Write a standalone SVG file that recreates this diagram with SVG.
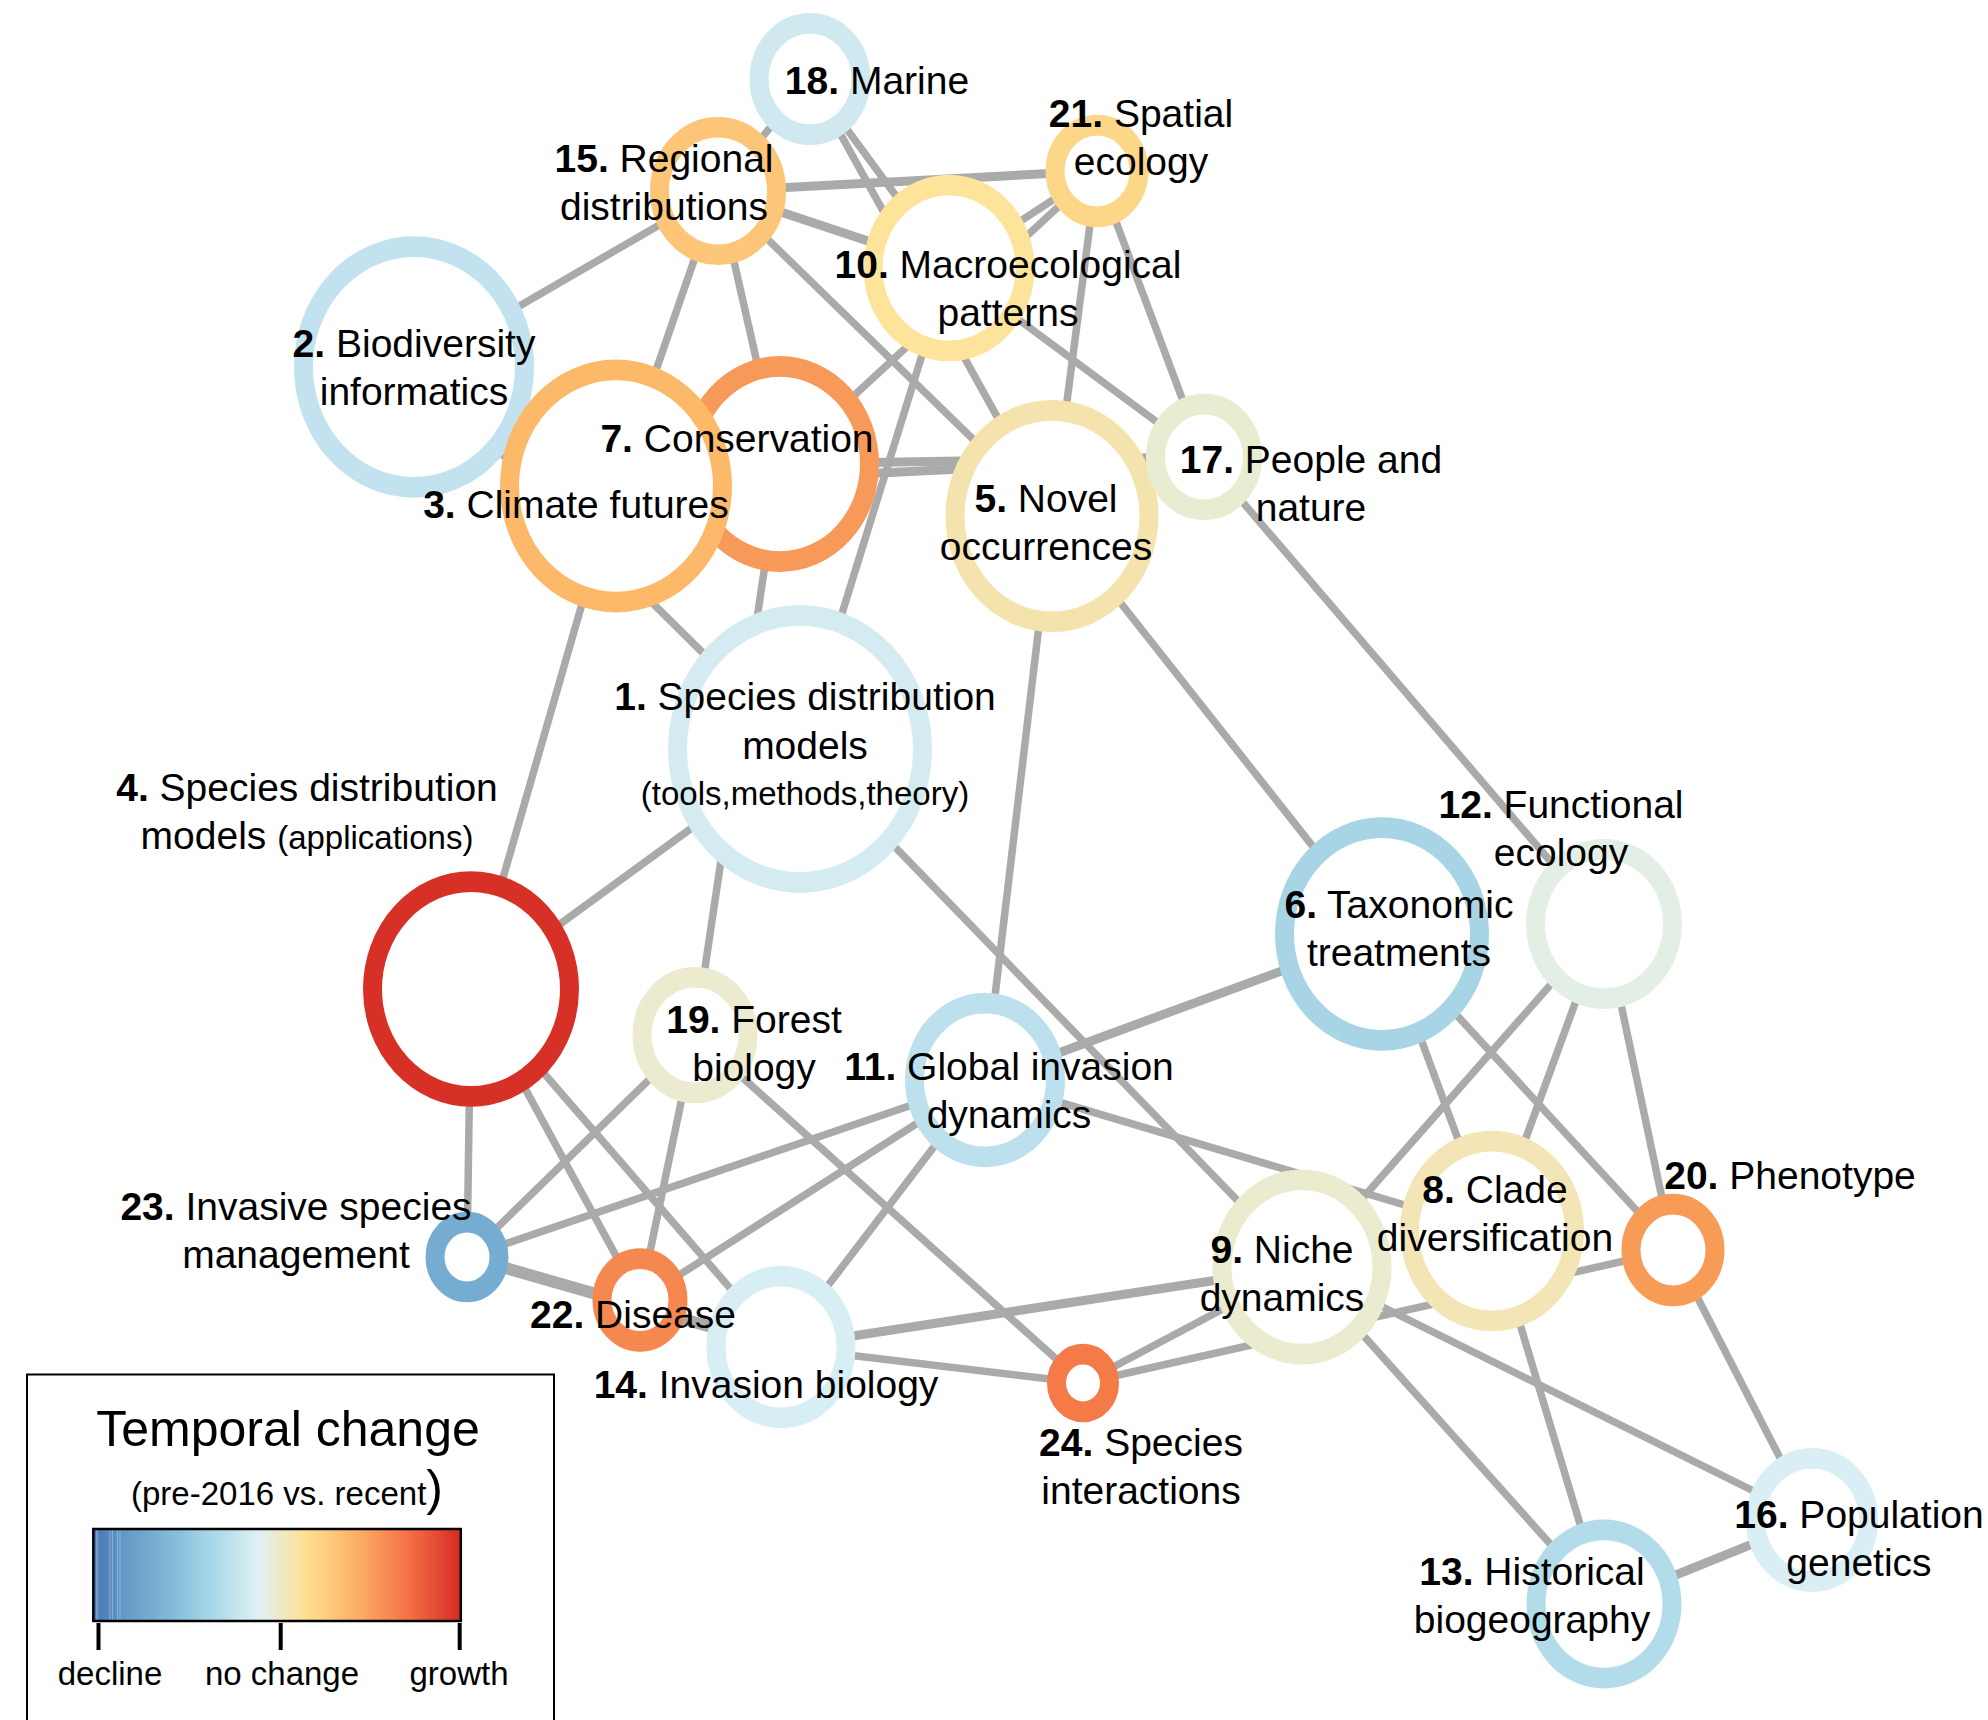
<svg xmlns="http://www.w3.org/2000/svg" width="1988" height="1720" viewBox="0 0 1988 1720">
<style>
.e{stroke:#aaaaaa;stroke-width:7.5;stroke-linecap:butt}
.t{stroke-width:9}
.tt{stroke-width:12}
.ring{fill:#ffffff;stroke-width:19}
text{font-family:"Liberation Sans",Arial,sans-serif;font-size:39px;fill:#000000}
.b{font-weight:bold}
.s{font-size:33px}
</style>
<defs>
<linearGradient id="grad" x1="0" y1="0" x2="1" y2="0">
<stop offset="0" stop-color="#4575b4"/>
<stop offset="0.08" stop-color="#6398c6"/>
<stop offset="0.22" stop-color="#86bcd9"/>
<stop offset="0.33" stop-color="#abd9e9"/>
<stop offset="0.45" stop-color="#e0f1f5"/>
<stop offset="0.58" stop-color="#fee090"/>
<stop offset="0.73" stop-color="#fcab62"/>
<stop offset="0.86" stop-color="#f46f46"/>
<stop offset="1" stop-color="#d52b25"/>
</linearGradient>
</defs>
<rect width="1988" height="1720" fill="#ffffff"/>
<g id="edges">
<line class="e" x1="810" y1="79" x2="718" y2="191"/>
<line class="e" x1="810" y1="79" x2="949" y2="268"/>
<line class="e" x1="810" y1="79" x2="1052" y2="516"/>
<line class="e t" x1="718" y1="191" x2="1097" y2="171"/>
<line class="e t" x1="718" y1="191" x2="949" y2="268"/>
<line class="e" x1="718" y1="191" x2="414" y2="367"/>
<line class="e" x1="718" y1="191" x2="616" y2="486"/>
<line class="e" x1="718" y1="191" x2="780" y2="464"/>
<line class="e" x1="718" y1="191" x2="1052" y2="516"/>
<line class="e" x1="1097" y1="171" x2="949" y2="268"/>
<line class="e" x1="1097" y1="171" x2="780" y2="464"/>
<line class="e" x1="1097" y1="171" x2="1052" y2="516"/>
<line class="e" x1="1097" y1="171" x2="1204" y2="457"/>
<line class="e" x1="949" y1="268" x2="1204" y2="457"/>
<line class="e" x1="949" y1="268" x2="800" y2="749"/>
<line class="e t" x1="780" y1="464" x2="1204" y2="457"/>
<line class="e t" x1="616" y1="486" x2="1204" y2="457"/>
<line class="e" x1="414" y1="367" x2="800" y2="749"/>
<line class="e" x1="780" y1="464" x2="695" y2="1035"/>
<line class="e" x1="616" y1="486" x2="471" y2="989"/>
<line class="e" x1="471" y1="989" x2="800" y2="749"/>
<line class="e" x1="1052" y1="516" x2="985" y2="1080"/>
<line class="e" x1="1052" y1="516" x2="1382" y2="934"/>
<line class="e" x1="1204" y1="457" x2="1604" y2="924"/>
<line class="e" x1="800" y1="749" x2="1302" y2="1267"/>
<line class="e" x1="471" y1="989" x2="467" y2="1257"/>
<line class="e" x1="471" y1="989" x2="640" y2="1300"/>
<line class="e" x1="471" y1="989" x2="781" y2="1347"/>
<line class="e" x1="695" y1="1035" x2="467" y2="1257"/>
<line class="e" x1="695" y1="1035" x2="640" y2="1300"/>
<line class="e" x1="695" y1="1035" x2="1083" y2="1383"/>
<line class="e" x1="985" y1="1080" x2="467" y2="1257"/>
<line class="e" x1="985" y1="1080" x2="640" y2="1300"/>
<line class="e" x1="985" y1="1080" x2="781" y2="1347"/>
<line class="e" x1="985" y1="1080" x2="1492" y2="1231"/>
<line class="e t" x1="1382" y1="934" x2="985" y2="1080"/>
<line class="e" x1="1382" y1="934" x2="1492" y2="1231"/>
<line class="e" x1="1382" y1="934" x2="1673" y2="1250"/>
<line class="e" x1="1604" y1="924" x2="1302" y2="1267"/>
<line class="e" x1="1604" y1="924" x2="1492" y2="1231"/>
<line class="e" x1="1604" y1="924" x2="1673" y2="1250"/>
<line class="e" x1="1083" y1="1383" x2="1673" y2="1250"/>
<line class="e" x1="1083" y1="1383" x2="1302" y2="1267"/>
<line class="e t" x1="781" y1="1347" x2="1302" y2="1267"/>
<line class="e" x1="781" y1="1347" x2="1083" y2="1383"/>
<line class="e" x1="1302" y1="1267" x2="1604" y2="1604"/>
<line class="e" x1="1302" y1="1267" x2="1812" y2="1520"/>
<line class="e" x1="1492" y1="1231" x2="1604" y2="1604"/>
<line class="e" x1="1673" y1="1250" x2="1812" y2="1520"/>
<line class="e t" x1="1604" y1="1604" x2="1812" y2="1520"/>
<line class="e tt" x1="467" y1="1257" x2="781" y2="1347"/>
</g>
<g id="nodes">
<g id="node-1"><circle class="ring" r="122.5" stroke="#d4ebf2" transform="translate(800,749) scale(1,1.09)"/></g>
<g id="node-2"><circle class="ring" r="110.5" stroke="#c1e2ee" transform="translate(414,367) scale(1,1.09)"/></g>
<g id="node-7"><circle class="ring" r="89.5" stroke="#f79a59" transform="translate(780,464) scale(1,1.09)"/></g>
<g id="node-3"><circle class="ring" r="106.5" stroke="#fdb96a" transform="translate(616,486) scale(1,1.09)"/></g>
<g id="node-4"><circle class="ring" r="98.5" stroke="#d73027" transform="translate(471,989) scale(1,1.09)"/></g>
<g id="node-5"><circle class="ring" r="97" stroke="#f5e3ad" transform="translate(1052,516) scale(1,1.09)"/></g>
<g id="node-6"><circle class="ring" r="97.5" stroke="#a8d5e6" transform="translate(1382,934) scale(1,1.09)"/></g>
<g id="node-8"><circle class="ring" r="82.5" stroke="#f3e5b5" transform="translate(1492,1231) scale(1,1.09)"/></g>
<g id="node-9"><circle class="ring" r="80" stroke="#ebebcf" transform="translate(1302,1267) scale(1,1.09)"/></g>
<g id="node-10"><circle class="ring" r="76" stroke="#fee39a" transform="translate(949,268) scale(1,1.09)"/></g>
<g id="node-11"><circle class="ring" r="70.5" stroke="#bce0ee" transform="translate(985,1080) scale(1,1.09)"/></g>
<g id="node-12"><circle class="ring" r="68.5" stroke="#e3efe5" transform="translate(1604,924) scale(1,1.09)"/></g>
<g id="node-13"><circle class="ring" r="68" stroke="#b3dcea" transform="translate(1604,1604) scale(1,1.09)"/></g>
<g id="node-14"><circle class="ring" r="65" stroke="#d8eef5" transform="translate(781,1347) scale(1,1.09)"/></g>
<g id="node-15"><circle class="ring" r="58.5" stroke="#fdc578" transform="translate(718,191) scale(1,1.09)"/></g>
<g id="node-16"><circle class="ring" r="56.5" stroke="#d9eef5" transform="translate(1812,1520) scale(1,1.09)"/></g>
<g id="node-17"><circle class="ring" r="48.5" stroke="#e8ecd1" transform="translate(1204,457) scale(1,1.09)"/></g>
<g id="node-18"><circle class="ring" r="51" stroke="#d0e9f1" transform="translate(810,79) scale(1,1.09)"/></g>
<g id="node-19"><circle class="ring" r="53" stroke="#ecebcf" transform="translate(695,1035) scale(1,1.09)"/></g>
<g id="node-20"><circle class="ring" r="42" stroke="#f89b57" transform="translate(1673,1250) scale(1,1.09)"/></g>
<g id="node-21"><circle class="ring" r="42" stroke="#fdd788" transform="translate(1097,171) scale(1,1.09)"/></g>
<g id="node-22"><circle class="ring" r="38" stroke="#f5884f" transform="translate(640,1300) scale(1,1.09)"/></g>
<g id="node-23"><circle class="ring" r="32" stroke="#74add1" transform="translate(467,1257) scale(1,1.09)"/></g>
<g id="node-24"><circle class="ring" r="26.5" stroke="#f47b48" transform="translate(1083,1383) scale(1,1.09)"/></g>
</g>
<g id="labels" text-anchor="middle">
<g id="label-1"><text x="805" y="710"><tspan class="b">1.</tspan> Species distribution</text><text x="805" y="759">models</text><text class="s" x="805" y="805">(tools,methods,theory)</text></g>
<g id="label-2"><text x="414" y="357"><tspan class="b">2.</tspan> Biodiversity</text><text x="414" y="405">informatics</text></g>
<g id="label-3"><text x="576" y="518"><tspan class="b">3.</tspan> Climate futures</text></g>
<g id="label-4"><text x="307" y="801"><tspan class="b">4.</tspan> Species distribution</text><text x="307" y="849">models <tspan class="s">(applications)</tspan></text></g>
<g id="label-5"><text x="1046" y="512"><tspan class="b">5.</tspan> Novel</text><text x="1046" y="560">occurrences</text></g>
<g id="label-6"><text x="1399" y="918"><tspan class="b">6.</tspan> Taxonomic</text><text x="1399" y="966">treatments</text></g>
<g id="label-7"><text x="737" y="452"><tspan class="b">7.</tspan> Conservation</text></g>
<g id="label-8"><text x="1495" y="1203"><tspan class="b">8.</tspan> Clade</text><text x="1495" y="1251">diversification</text></g>
<g id="label-9"><text x="1282" y="1263"><tspan class="b">9.</tspan> Niche</text><text x="1282" y="1311">dynamics</text></g>
<g id="label-10"><text x="1008" y="278"><tspan class="b">10.</tspan> Macroecological</text><text x="1008" y="326">patterns</text></g>
<g id="label-11"><text x="1009" y="1080"><tspan class="b">11.</tspan> Global invasion</text><text x="1009" y="1128">dynamics</text></g>
<g id="label-12"><text x="1561" y="818"><tspan class="b">12.</tspan> Functional</text><text x="1561" y="866">ecology</text></g>
<g id="label-13"><text x="1532" y="1585"><tspan class="b">13.</tspan> Historical</text><text x="1532" y="1633">biogeography</text></g>
<g id="label-14"><text x="766" y="1398"><tspan class="b">14.</tspan> Invasion biology</text></g>
<g id="label-15"><text x="664" y="172"><tspan class="b">15.</tspan> Regional</text><text x="664" y="220">distributions</text></g>
<g id="label-16"><text x="1859" y="1528"><tspan class="b">16.</tspan> Population</text><text x="1859" y="1576">genetics</text></g>
<g id="label-17"><text x="1311" y="473"><tspan class="b">17.</tspan> People and</text><text x="1311" y="521">nature</text></g>
<g id="label-18"><text x="877" y="94"><tspan class="b">18.</tspan> Marine</text></g>
<g id="label-19"><text x="754" y="1033"><tspan class="b">19.</tspan> Forest</text><text x="754" y="1081">biology</text></g>
<g id="label-20"><text x="1790" y="1189"><tspan class="b">20.</tspan> Phenotype</text></g>
<g id="label-21"><text x="1141" y="127"><tspan class="b">21.</tspan> Spatial</text><text x="1141" y="175">ecology</text></g>
<g id="label-22"><text x="633" y="1328"><tspan class="b">22.</tspan> Disease</text></g>
<g id="label-23"><text x="296" y="1220"><tspan class="b">23.</tspan> Invasive species</text><text x="296" y="1268">management</text></g>
<g id="label-24"><text x="1141" y="1456"><tspan class="b">24.</tspan> Species</text><text x="1141" y="1504">interactions</text></g>
</g>
<g id="legend">
<rect x="27" y="1374.5" width="527" height="400" fill="none" stroke="#000000" stroke-width="2"/>
<text x="288" y="1446" text-anchor="middle" style="font-size:50px">Temporal change</text>
<text x="287" y="1505" text-anchor="middle" class="s">(pre-2016 vs. recent<tspan style="font-size:50px">)</tspan></text>
<rect x="93.3" y="1529" width="367.5" height="92" fill="url(#grad)" stroke="#000000" stroke-width="2.5"/>
<g stroke="#ffffff" stroke-opacity="0.3" stroke-width="1">
<line x1="96.5" y1="1530.5" x2="96.5" y2="1619.5"/>
<line x1="98" y1="1530.5" x2="98" y2="1619.5"/>
<line x1="110" y1="1530.5" x2="110" y2="1619.5"/>
<line x1="112.5" y1="1530.5" x2="112.5" y2="1619.5"/>
<line x1="117.5" y1="1530.5" x2="117.5" y2="1619.5"/>
<line x1="120" y1="1530.5" x2="120" y2="1619.5"/>
</g>
<g stroke="#000000" stroke-width="4">
<line x1="98.5" y1="1623" x2="98.5" y2="1650"/>
<line x1="280.7" y1="1623" x2="280.7" y2="1650"/>
<line x1="459.7" y1="1623" x2="459.7" y2="1650"/>
</g>
<text x="110" y="1685" text-anchor="middle" class="s">decline</text>
<text x="282" y="1685" text-anchor="middle" class="s">no change</text>
<text x="459" y="1685" text-anchor="middle" class="s">growth</text>
</g>
</svg>
